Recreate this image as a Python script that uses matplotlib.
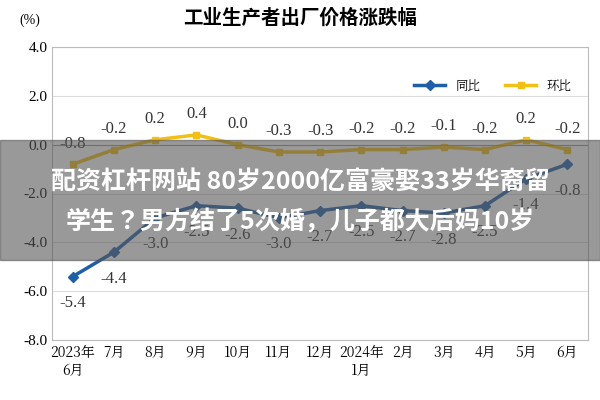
import matplotlib
matplotlib.use("Agg")
import matplotlib.pyplot as plt
from matplotlib import font_manager
from matplotlib.patches import Rectangle

# pick installed CJK families (sans for title/banner, serif if present for ticks)
names = sorted({f.name for f in font_manager.fontManager.ttflist if 'CJK' in f.name})
sans_cjk = next((n for n in names if 'Sans' in n and n.endswith('SC')),
                next((n for n in names if 'Sans' in n), names[0] if names else 'DejaVu Sans'))
serif_cjk = next((n for n in names if 'Serif' in n), sans_cjk)
plt.rcParams['font.family'] = [sans_cjk, 'DejaVu Sans']

months = ['2023年\n6月', '7月', '8月', '9月', '10月', '11月', '12月', '2024年\n1月',
          '2月', '3月', '4月', '5月', '6月']
yoy = [-5.4, -4.4, -3.0, -2.5, -2.6, -3.0, -2.7, -2.5, -2.7, -2.8, -2.5, -1.4, -0.8]
mom = [-0.8, -0.2, 0.2, 0.4, 0.0, -0.3, -0.3, -0.2, -0.2, -0.1, -0.2, 0.2, -0.2]

fig = plt.figure(figsize=(6, 4), dpi=100)
ax = fig.add_axes([0.087, 0.15, 0.893, 0.7325])
x = list(range(len(months)))

ax.plot(x, yoy, color='#1f5fa8', marker='D', markersize=5, linewidth=2.5, label='同比')
ax.plot(x, mom, color='#f2c014', marker='s', markersize=5, linewidth=2.5, label='环比')

serif = 'Liberation Serif'
for i, v in enumerate(yoy):
    ax.annotate('%.1f' % v, (i, v), xytext=(0, -22), textcoords='offset points',
                ha='center', fontsize=12, family=serif, color='#333333')
for i, v in enumerate(mom):
    ax.annotate('%.1f' % v, (i, v), xytext=(0, 12), textcoords='offset points',
                ha='center', fontsize=12, family=serif, color='#333333')

ax.set_xlim(-0.5, 12.5)
ax.set_ylim(-8, 4)
ticks = [4, 2, 0, -2, -4, -6, -8]
ax.set_yticks(ticks)
ax.set_yticklabels(['%.1f' % t for t in ticks], family=serif, fontsize=11)
ax.set_xticks(x)
ax.set_xticklabels(months, fontsize=10, family=serif_cjk)
ax.tick_params(length=0)
ax.grid(axis='y', color='#dddddd', linewidth=0.8)
for s in ax.spines.values():
    s.set_color('#bbbbbb')
ax.axhline(0, color='#999999', linewidth=0.8)

ax.legend(loc='upper right', bbox_to_anchor=(0.99, 0.93), ncol=2, frameon=False,
          prop={'family': serif_cjk, 'size': 9}, handlelength=2.5)

fig.text(0.5, 0.94, '工业生产者出厂价格涨跌幅', ha='center', fontsize=14, weight='bold')
fig.text(0.05, 0.94, '(%)', ha='center', fontsize=10, family=serif)

# overlay banner
fig.patches.append(Rectangle((0, 0.35), 1, 0.3, transform=fig.transFigure,
                             color='#555555', alpha=0.6, zorder=10))
fig.text(0.5, 0.545, '配资杠杆网站 80岁2000亿富豪娶33岁华裔留', ha='center', va='center',
         color='white', fontsize=18, weight='bold', zorder=11)
fig.text(0.5, 0.445, '学生？男方结了5次婚，儿子都大后妈10岁', ha='center', va='center',
         color='white', fontsize=18, weight='bold', zorder=11)

fig.savefig('out.png')
